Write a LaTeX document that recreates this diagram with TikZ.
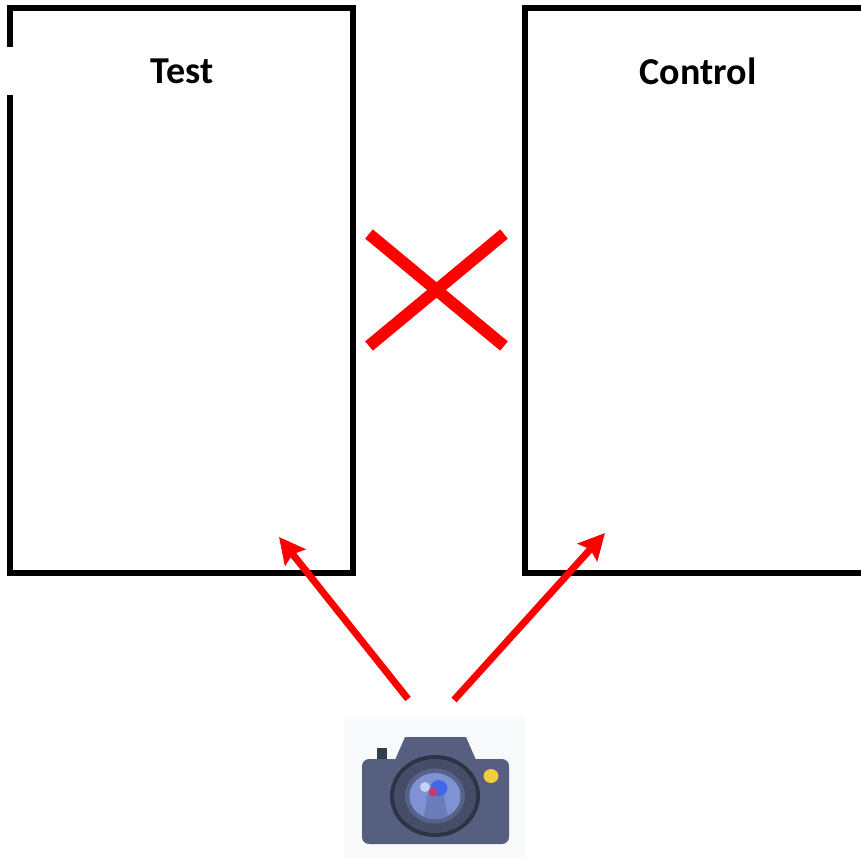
\documentclass[tikz,border=0pt]{standalone}
\usepackage{fontspec}
\setmainfont{Carlito}
\usetikzlibrary{arrows.meta}
\definecolor{camBody}{HTML}{565F80}
\definecolor{camBg}{HTML}{F8F9FB}
\definecolor{camRingA}{HTML}{2D3448}
\definecolor{camRingB}{HTML}{454D68}
\definecolor{camRingC}{HTML}{566288}
\definecolor{camGlass}{HTML}{7F92D6}
\definecolor{camWedge}{HTML}{6C7CB8}
\definecolor{camFinder}{HTML}{2F4048}
\definecolor{camBlue}{HTML}{4068E8}
\definecolor{camPink}{HTML}{C23A7A}
\definecolor{camHigh}{HTML}{C5D0F2}
\definecolor{camYellow}{HTML}{F0CC40}
\tikzset{
  boxline/.style={draw=black,line width=6.4pt,line cap=butt,miter limit=10},
  label/.style={font=\bfseries\fontsize{38}{44}\selectfont,text=black,inner sep=0pt},
  crossline/.style={draw=red,line width=12pt},
  redarrow/.style={draw=red,line width=7pt,-{Stealth[length=26pt,width=26pt,inset=4pt]}},
}
\begin{document}
\begin{tikzpicture}[x=1pt,y=-1pt]
\clip (0,0) rectangle (861,857);
\fill[white] (0,0) rectangle (861,857);
% boxes
\draw[boxline] (10,47) -- (10,8) -- (353,8) -- (353,573) -- (10,573) -- (10,95);
\draw[boxline] (870,8) -- (525,8) -- (525,573) -- (870,573);
\node[label] (test) at (182,71) {Test};
\node[label] (control) at (698,71) {Control};
% cross
\coordinate (xa) at (369,234);
\coordinate (xb) at (504,346);
\coordinate (xc) at (369,346);
\coordinate (xd) at (504,234);
\draw[crossline] (xa) -- (xb);
\draw[crossline] (xc) -- (xd);
% camera
\fill[camBg] (344,717) rectangle (525,857);
\fill[camFinder] (377,748) rectangle (387,760);
\fill[camBody] (395,760) -- (405,737) -- (466,737) -- (476,760) -- cycle;
\fill[camBody,rounded corners=7pt] (362,759) rectangle (509,844);
\fill[camRingA] (435,796) ellipse [x radius=45,y radius=41];
\fill[camRingB] (435,796) ellipse [x radius=41,y radius=37];
\fill[camRingC] (435,796) ellipse [x radius=30,y radius=27.5];
\fill[camGlass] (435,796) ellipse [x radius=25.5,y radius=23];
\begin{scope}
\clip (435,796) ellipse [x radius=25.5,y radius=23];
\fill[camWedge] (427,794) .. controls (427,803) and (425,811) .. (422,821) -- (450,821) .. controls (446,811) and (444,803) .. (444,794) -- cycle;
\end{scope}
\fill[camBlue] (439,788) ellipse [x radius=8.5,y radius=8];
\fill[camHigh] (425,787) circle (5);
\fill[camPink] (433,792) circle (4.5);
\fill[camYellow] (491,776) ellipse [x radius=7.5,y radius=7];
% arrows
\coordinate (a1) at (408,699);
\coordinate (a1t) at (279,537);
\coordinate (a2) at (454,700);
\coordinate (a2t) at (605,533);
\draw[redarrow] (a1) -- (a1t);
\draw[redarrow] (a2) -- (a2t);
\end{tikzpicture}
\end{document}
